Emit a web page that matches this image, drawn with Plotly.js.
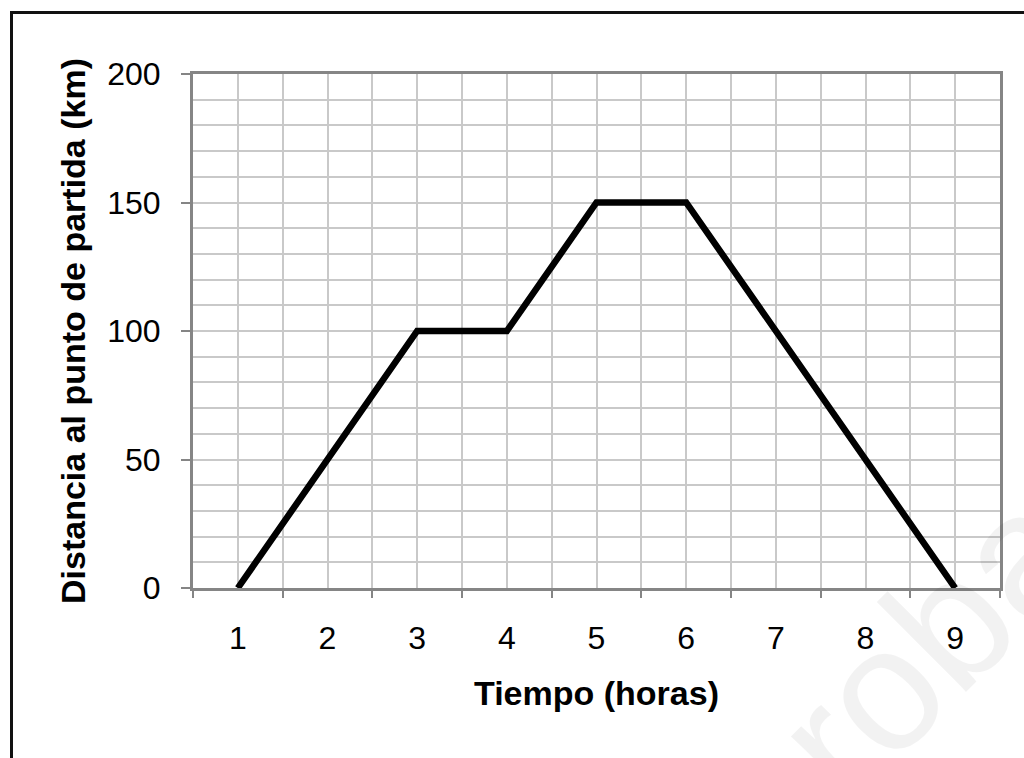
<!DOCTYPE html>
<html>
<head>
<meta charset="utf-8">
<script src="https://cdn.plot.ly/plotly-3.0.1.min.js"></script>
<style>
  html, body { margin: 0; padding: 0; background: #fff; overflow: hidden; }
  #frame { position: absolute; left: 10px; top: 11px; width: 1100px; height: 900px;
           border-left: 3px solid #111; border-top: 3px solid #111; pointer-events: none; z-index: 2; }
  #chart { position: absolute; left: 0; top: 0; width: 1024px; height: 758px; }
</style>
</head>
<body>
<div id="chart"></div>
<div id="frame"></div>
<script>
// Data
const tiempoHoras = [1, 3, 4, 5, 6, 9];
const distanciaKm = [0, 100, 100, 150, 150, 0];
const xTickVals = [1, 2, 3, 4, 5, 6, 7, 8, 9];
const xTickText = ["1", "2", "3", "4", "5", "6", "7", "8", "9"];
const xBoundaryTicks = [0.5, 1.5, 2.5, 3.5, 4.5, 5.5, 6.5, 7.5, 8.5, 9.5];
const yTickVals = [0, 50, 100, 150, 200];
const yTickText = ["0", "50", "100", "150", "200"];

const gridColor = '#c9c9c9';
const axisColor = '#858585';
const fontFam = 'Arial, "Liberation Sans", sans-serif';

const trace = {
  x: tiempoHoras, y: distanciaKm, type: 'scatter', mode: 'lines',
  line: { color: '#000', width: 6.5 }, hoverinfo: 'skip', cliponaxis: false
};
const tickTrace = { x: [], y: [], xaxis: 'x2', yaxis: 'y', type: 'scatter', showlegend: false };

const layout = {
  width: 1024, height: 758,
  margin: { l: 193, r: 24, t: 74, b: 170 },
  paper_bgcolor: 'rgba(0,0,0,0)', plot_bgcolor: '#fff',
  showlegend: false,
  font: { family: fontFam, color: '#000' },
  xaxis: {
    range: [0.5, 9.5], tickmode: 'array', tickvals: xTickVals, ticktext: xTickText,
    ticks: '', showgrid: true, gridcolor: gridColor, gridwidth: 2,
    showline: true, linecolor: axisColor, linewidth: 3, mirror: true,
    zeroline: false, ticklabelstandoff: 20,
    tickfont: { size: 32, family: fontFam, color: '#000' },
    title: { text: 'Tiempo (horas)', font: { size: 34, family: fontFam, color: '#000', weight: 'bold' }, standoff: 26 }
  },
  xaxis2: {
    overlaying: 'x', matches: 'x', range: [0.5, 9.5], side: 'bottom',
    tickmode: 'array', tickvals: xBoundaryTicks, showticklabels: false,
    ticks: 'outside', ticklen: 9, tickwidth: 2, tickcolor: axisColor,
    showgrid: true, gridcolor: gridColor, gridwidth: 2, zeroline: false, showline: false
  },
  yaxis: {
    range: [0, 200], tickmode: 'array', tickvals: yTickVals, ticktext: yTickText,
    ticks: 'outside', ticklen: 9, tickwidth: 2, tickcolor: axisColor,
    showgrid: true, gridcolor: gridColor, gridwidth: 2,
    minor: { dtick: 10, tick0: 0, showgrid: true, gridcolor: gridColor, gridwidth: 2, ticks: '' },
    showline: true, linecolor: axisColor, linewidth: 3, mirror: true,
    zeroline: false, ticklabelstandoff: 14,
    tickfont: { size: 32, family: fontFam, color: '#000' },
    title: { text: 'Distancia al punto de partida (km)', font: { size: 34, family: fontFam, color: '#000', weight: 'bold' }, standoff: 12 }
  },
  annotations: [{
    text: 'proba', xref: 'paper', yref: 'paper', x: 0.87, y: -0.175,
    xanchor: 'center', yanchor: 'middle',
    showarrow: false, textangle: -45,
    font: { size: 175, family: fontFam, color: 'rgba(0,0,0,0.05)' }
  }]
};

Plotly.newPlot('chart', [trace, tickTrace], layout, { staticPlot: true, displayModeBar: false });
</script>
</body>
</html>
